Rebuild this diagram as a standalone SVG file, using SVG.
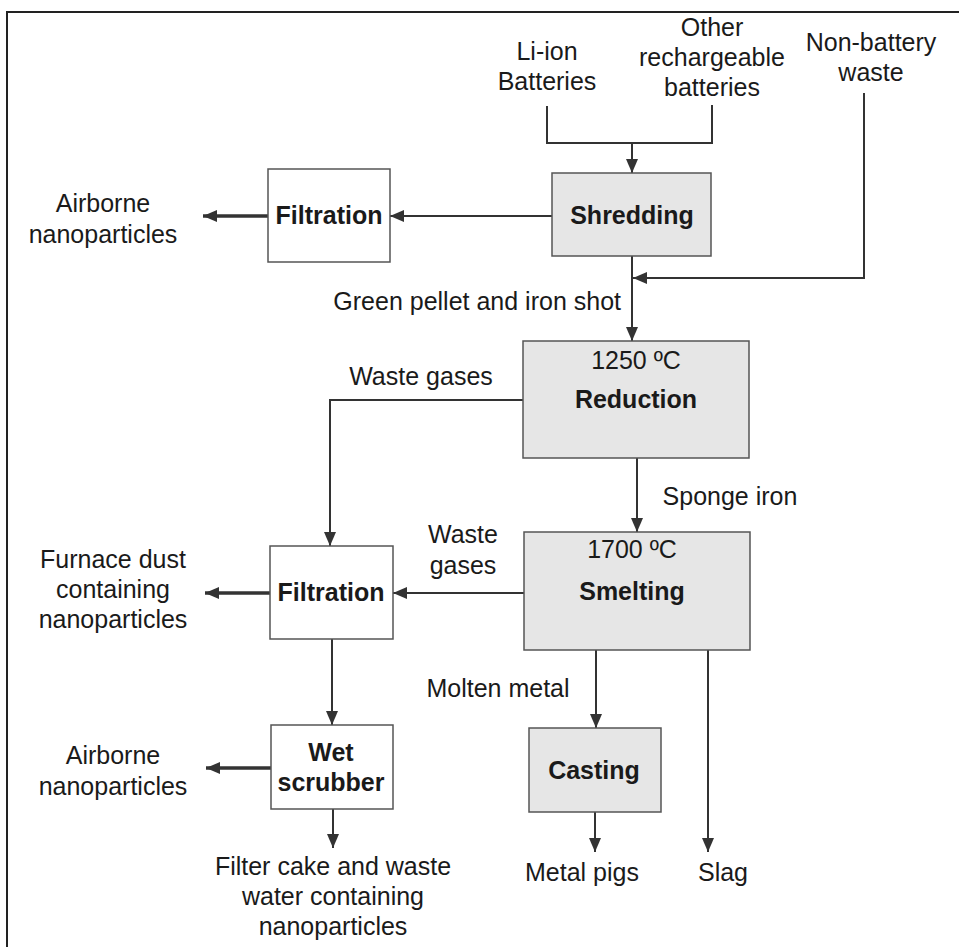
<svg xmlns="http://www.w3.org/2000/svg" width="959" height="947" viewBox="0 0 959 947">
<style>
text{font-family:"Liberation Sans",Arial,sans-serif;font-size:25px;fill:#1a1a1a;text-anchor:middle}
.b{font-weight:bold}
.box{stroke:#555;stroke-width:1.5}
.g{fill:#e6e6e6}
.w{fill:#fff}
.c{fill:none;stroke:#333;stroke-width:2}
.t{stroke-width:3.5}
</style>
<defs>
<marker id="a" markerUnits="userSpaceOnUse" markerWidth="15" markerHeight="12" refX="14" refY="6" orient="auto">
<path d="M0,0 L14,6 L0,12 z" fill="#333"/>
</marker>
</defs>
<rect x="0" y="0" width="959" height="947" fill="#fff"/>
<rect x="7" y="12" width="970" height="950" fill="none" stroke="#222" stroke-width="2"/>

<g id="connectors">
<polyline class="c" points="547,106 547,143 712,143 712,105"/>
<line class="c" x1="632" y1="143" x2="632" y2="173" marker-end="url(#a)"/>
<line class="c" x1="552" y1="216" x2="390" y2="216" marker-end="url(#a)"/>
<line class="c t" x1="268" y1="216" x2="203" y2="216" marker-end="url(#a)"/>
<line class="c" x1="632" y1="256" x2="632" y2="341" marker-end="url(#a)"/>
<polyline class="c" points="864,93 864,278 633,278" marker-end="url(#a)"/>
<polyline class="c" points="523,400 330,400 330,546" marker-end="url(#a)"/>
<line class="c" x1="637" y1="458" x2="637" y2="532" marker-end="url(#a)"/>
<line class="c" x1="524" y1="593" x2="393" y2="593" marker-end="url(#a)"/>
<line class="c t" x1="270" y1="593" x2="205" y2="593" marker-end="url(#a)"/>
<line class="c" x1="332" y1="639" x2="332" y2="725" marker-end="url(#a)"/>
<line class="c t" x1="271" y1="768" x2="206" y2="768" marker-end="url(#a)"/>
<line class="c" x1="333" y1="809" x2="333" y2="848" marker-end="url(#a)"/>
<line class="c" x1="596" y1="650" x2="596" y2="728" marker-end="url(#a)"/>
<line class="c" x1="595" y1="812" x2="595" y2="852" marker-end="url(#a)"/>
<line class="c" x1="708" y1="650" x2="708" y2="852" marker-end="url(#a)"/>
</g>

<g id="liion"><text x="547" y="60">Li-ion</text><text x="547" y="90">Batteries</text></g>
<g id="other"><text x="712" y="36">Other</text><text x="712" y="66">rechargeable</text><text x="712" y="96">batteries</text></g>
<g id="nonbattery"><text x="871" y="51">Non-battery</text><text x="871" y="81">waste</text></g>

<g id="shredding"><rect class="box g" x="552" y="173" width="159" height="83"/><text class="b" x="632" y="224">Shredding</text></g>
<g id="filtration1"><rect class="box w" x="268" y="169" width="122" height="93"/><text class="b" x="329" y="224">Filtration</text></g>
<g id="airborne1"><text x="103" y="212">Airborne</text><text x="103" y="243">nanoparticles</text></g>

<g id="label-green"><text x="621" y="310" style="text-anchor:end">Green pellet and iron shot</text></g>

<g id="reduction"><rect class="box g" x="523" y="341" width="226" height="117"/><text x="636" y="369">1250 ºC</text><text class="b" x="636" y="408">Reduction</text></g>
<g id="label-waste1"><text x="421" y="385">Waste gases</text></g>
<g id="label-sponge"><text x="730" y="505">Sponge iron</text></g>

<g id="smelting"><rect class="box g" x="524" y="532" width="226" height="118"/><text x="632" y="558">1700 ºC</text><text class="b" x="632" y="600">Smelting</text></g>
<g id="label-waste2"><text x="463" y="543">Waste</text><text x="463" y="574">gases</text></g>

<g id="filtration2"><rect class="box w" x="270" y="546" width="123" height="93"/><text class="b" x="331" y="601">Filtration</text></g>
<g id="furnace"><text x="113" y="568">Furnace dust</text><text x="113" y="598">containing</text><text x="113" y="628">nanoparticles</text></g>

<g id="label-molten"><text x="498" y="697">Molten metal</text></g>

<g id="wetscrubber"><rect class="box w" x="271" y="725" width="122" height="84"/><text class="b" x="331" y="761">Wet</text><text class="b" x="331" y="791">scrubber</text></g>
<g id="airborne2"><text x="113" y="764">Airborne</text><text x="113" y="795">nanoparticles</text></g>

<g id="casting"><rect class="box g" x="529" y="728" width="132" height="84"/><text class="b" x="594" y="779">Casting</text></g>

<g id="metalpigs"><text x="582" y="881">Metal pigs</text></g>
<g id="slag"><text x="723" y="881">Slag</text></g>
<g id="filtercake"><text x="333" y="875">Filter cake and waste</text><text x="333" y="905">water containing</text><text x="333" y="935">nanoparticles</text></g>
</svg>
